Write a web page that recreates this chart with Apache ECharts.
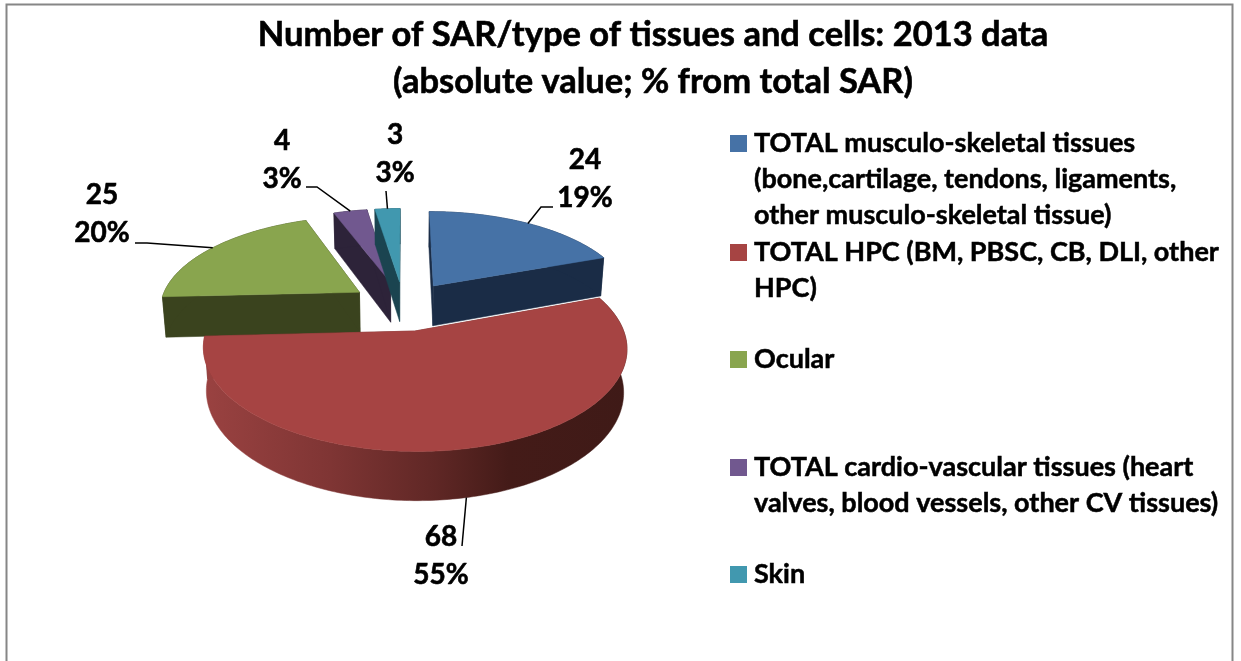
<!DOCTYPE html>
<html>
<head>
<meta charset="utf-8">
<style>
html, body { margin: 0; padding: 0; background: #fff; }
#chart { width: 1241px; height: 661px; }
</style>
<script src="https://cdn.jsdelivr.net/npm/echarts@6/dist/echarts.min.js"></script>
</head>
<body>
<div id="chart"></div>
<script>
const categories = [
  "TOTAL musculo-skeletal tissues\n(bone,cartilage, tendons, ligaments,\nother musculo-skeletal tissue)",
  "TOTAL HPC (BM, PBSC, CB, DLI, other\nHPC)",
  "Ocular",
  "TOTAL cardio-vascular tissues (heart\nvalves, blood vessels, other CV tissues)",
  "Skin"
];
const values = [24, 68, 25, 4, 3];
const percents = [19, 55, 20, 3, 3];

const topColors = ["#4672A6", "#A64443", "#89A54E", "#71588F", "#4198AF"];
const sideColors = ["#1A2C46", "#6A2A28", "#3A431E", "#2D2339", "#1B4450"];

// perspective of the tilted pie
const view = { x0: 403.5, y0: 305.6, tilt: 0.46, k: 0.0008, radius: 200, explode: 54, height: 41, shrink: 0.985 };
const stacking = [2, 5, 3, 0, 1];

// label centre, then leader line end and elbow
const labelLayout = [
  { x: 585, y: 179, line: [[553, 207], [541, 207]] },
  { x: 441, y: 556, line: [[462, 546]], onWall: true },
  { x: 102, y: 214, line: [[135, 243], [147, 243]] },
  { x: 282, y: 160, line: [[306, 187], [317, 187]] },
  { x: 395, y: 154, line: [[386, 191]] }
];
const legendTop = [125, 234, 341, 449, 556];

const total = values.reduce((a, b) => a + b, 0);
const rad = Math.PI / 180;

function sliceAngles(i) {
  const before = values.slice(0, i).reduce((a, b) => a + b, 0);
  return [before / total * 360, (before + values[i]) / total * 360];
}

function project(X, Y, bottom) {
  const s = 1 / (1 + view.k * Y);
  const x = view.x0 + X * s;
  const y = view.y0 - view.tilt * Y * s;
  if (!bottom) return [x, y];
  return [
    view.x0 + (x - view.x0) * view.shrink,
    view.y0 + (y - view.y0) * view.shrink + view.height * s
  ];
}

function renderSlice(params) {
  const i = params.dataIndex;
  const [a0, a1] = sliceAngles(i);
  const mid = (a0 + a1) / 2 * rad;
  const ox = view.explode * Math.sin(mid);
  const oy = view.explode * Math.cos(mid);
  const rim = (deg, bottom) => project(ox + view.radius * Math.sin(deg * rad), oy + view.radius * Math.cos(deg * rad), bottom);

  const topArc = [];
  const lowArc = [];
  for (let d = a0; d < a1; d += 1) {
    topArc.push(rim(d, false));
    lowArc.push(rim(d, true));
  }
  topArc.push(rim(a1, false));
  lowArc.push(rim(a1, true));
  const apexTop = project(ox, oy, false);
  const apexLow = project(ox, oy, true);

  const wallFill = i === 1
    ? new echarts.graphic.LinearGradient(0, 0, 1, 0, [
        { offset: 0, color: "#9A4241" },
        { offset: 0.3, color: "#7F3534" },
        { offset: 0.55, color: "#5F2725" },
        { offset: 0.72, color: "#441B18" },
        { offset: 1, color: "#3F1A17" }
      ])
    : sideColors[i];
  const base = stacking[i] * 10;
  const poly = (points, fill, z) => ({
    type: "polygon",
    shape: { points: points },
    style: { fill: fill, stroke: fill, lineWidth: 0.5 },
    z2: base + z
  });

  const children = [
    poly([apexTop, topArc[0], lowArc[0], apexLow], sideColors[i], 0),
    poly([apexTop, topArc[topArc.length - 1], lowArc[lowArc.length - 1], apexLow], sideColors[i], 0),
    poly(topArc.concat(lowArc.slice().reverse()), wallFill, 1),
    poly([apexTop].concat(topArc), topColors[i], 2)
  ];

  // leader line and the two line label
  const lay = labelLayout[i];
  const anchor = rim((a0 + a1) / 2, !!lay.onWall);
  children.push({
    type: "polyline",
    shape: { points: [anchor].concat(lay.line.slice().reverse()) },
    style: { fill: null, stroke: "#000", lineWidth: 1.5 },
    z2: 90
  });
  children.push({
    type: "text",
    style: {
      x: lay.x,
      y: lay.y,
      text: values[i] + "\n" + percents[i] + "%",
      fontFamily: "Lato",
      fontWeight: "bold",
      fontSize: 28,
      lineHeight: 38,
      fill: "#000",
      stroke: "#000",
      lineWidth: 0.6,
      align: "center",
      verticalAlign: "middle"
    },
    z2: 100
  });
  return { type: "group", children: children };
}

const legendGraphics = [];
categories.forEach((name, i) => {
  legendGraphics.push({
    type: "rect",
    shape: { x: 730, y: legendTop[i] + 10, width: 17, height: 17 },
    style: { fill: topColors[i] }
  });
  legendGraphics.push({
    type: "text",
    style: {
      x: 754,
      y: legendTop[i],
      text: name,
      fontFamily: "Lato",
      fontWeight: "bold",
      fontSize: 27,
      lineHeight: 36,
      fill: "#000",
      stroke: "#000",
      lineWidth: 0.5
    }
  });
});

const myChart = echarts.init(document.getElementById("chart"));
myChart.setOption({
  animation: false,
  backgroundColor: "#fff",
  title: {
    text: "Number of SAR/type of tissues and cells: 2013 data\n(absolute value; % from total SAR)",
    left: 648,
    top: 6,
    textAlign: "center",
    textStyle: {
      fontFamily: "Lato",
      fontWeight: "bold",
      fontSize: 34.5,
      lineHeight: 47,
      color: "#000",
      textBorderColor: "#000",
      textBorderWidth: 0.6
    }
  },
  graphic: [{
    type: "rect",
    shape: { x: 6.5, y: 4.5, width: 1226, height: 700 },
    style: { fill: null, stroke: "#868686", lineWidth: 2 }
  }].concat(legendGraphics),
  series: [{
    type: "custom",
    coordinateSystem: "none",
    renderItem: renderSlice,
    data: values,
    silent: true
  }]
});
</script>
</body>
</html>
